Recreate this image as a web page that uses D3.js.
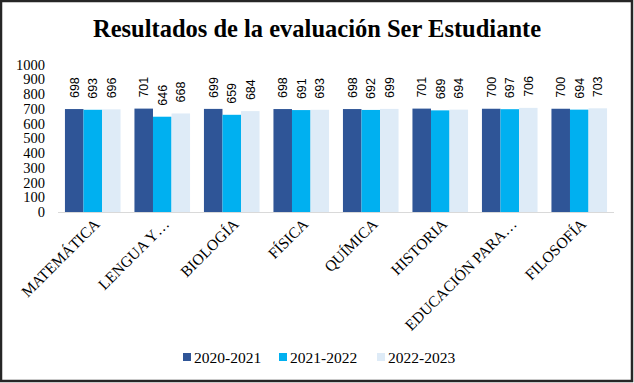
<!DOCTYPE html>
<html>
<head>
<meta charset="utf-8">
<script src="https://cdn.jsdelivr.net/npm/d3@7"></script>
<style>
  html, body { margin: 0; padding: 0; background: #fff; }
  svg { display: block; }
</style>
</head>
<body>
<script>
const title = "Resultados de la evaluación Ser Estudiante";
const categories = ["MATEMÁTICA", "LENGUA Y…", "BIOLOGÍA", "FÍSICA", "QUÍMICA", "HISTORIA", "EDUCACIÓN PARA…", "FILOSOFÍA"];
const seriesNames = ["2020-2021", "2021-2022", "2022-2023"];
const values2020 = [698, 701, 699, 698, 698, 701, 700, 700];
const values2021 = [693, 646, 659, 691, 692, 689, 697, 694];
const values2022 = [696, 668, 684, 693, 699, 694, 706, 703];
const yTicks = [0, 100, 200, 300, 400, 500, 600, 700, 800, 900, 1000];
const colors = ["#2F5597", "#00B0F0", "#DEEBF7"];

const seriesValues = [values2020, values2021, values2022];
const W = 634, H = 383;
const serif = "'Liberation Serif', 'Times New Roman', serif";
const svg = d3.select("body").append("svg").attr("width", W).attr("height", H);

svg.append("rect").attr("x", 1).attr("y", 1).attr("width", 631).attr("height", 380)
  .attr("fill", "#fff").attr("stroke", "#262626").attr("stroke-width", 2.5);

svg.append("text").attr("x", 317).attr("y", 37).attr("text-anchor", "middle")
  .attr("font-family", serif)
  .attr("font-weight", "bold").attr("font-size", 24.5).attr("fill", "#000").text(title);

const x0 = d3.scaleBand().domain(categories).range([58, 614]).paddingInner(0.2).paddingOuter(0.1);
const x1 = d3.scaleBand().domain(seriesNames).range([0, x0.bandwidth()]);
const y = d3.scaleLinear().domain([0, 1000]).range([212, 64.5]);

// y axis (labels only)
const yAxis = d3.axisLeft(y).tickValues(yTicks).tickFormat(d3.format("d")).tickSize(0).tickPadding(0);
const gy = svg.append("g").attr("transform", "translate(45,0)").call(yAxis);
gy.attr("font-family", serif);
gy.select(".domain").remove();
gy.selectAll("text").attr("font-family", serif)
  .attr("font-size", 14.5).attr("fill", "#000");

// bars
const groups = svg.append("g").selectAll("g").data(categories).join("g")
  .attr("transform", d => `translate(${x0(d)},0)`);
seriesNames.forEach((s, si) => {
  groups.append("rect")
    .attr("x", x1(s)).attr("width", x1.bandwidth())
    .attr("y", (d, i) => y(seriesValues[si][i]))
    .attr("height", (d, i) => y(0) - y(seriesValues[si][i]))
    .attr("fill", colors[si]);
  groups.append("text")
    .attr("transform", (d, i) => `translate(${x1(s) + x1.bandwidth() / 2 + 4.5},${y(seriesValues[si][i]) - 11}) rotate(-90)`)
    .attr("font-family", "'Liberation Sans', Arial, sans-serif")
    .attr("font-size", 12.5).attr("fill", "#000")
    .text((d, i) => seriesValues[si][i]);
});

// x axis
const xAxis = d3.axisBottom(x0).tickSize(0).tickPadding(0);
const gx = svg.append("g").attr("transform", `translate(0,${y(0)})`).call(xAxis);
gx.attr("font-family", serif);
gx.select(".domain").attr("stroke", "#D9D9D9").attr("stroke-width", 1.2).attr("d", "M58,0.5H614");
gx.selectAll("text")
  .attr("font-family", serif)
  .attr("font-size", 15.5).attr("fill", "#000")
  .attr("text-anchor", "end").attr("dy", null).attr("y", 0)
  .attr("transform", "translate(8,13) rotate(-45)");

// legend
const legendX = [183, 279, 377];
const lg = svg.append("g");
seriesNames.forEach((s, i) => {
  lg.append("rect").attr("x", legendX[i]).attr("y", 353).attr("width", 8).attr("height", 8).attr("fill", colors[i]);
  lg.append("text").attr("x", legendX[i] + 11).attr("y", 363)
    .attr("font-family", serif)
    .attr("font-size", 15.5).attr("fill", "#000").text(s);
});
</script>
</body>
</html>
